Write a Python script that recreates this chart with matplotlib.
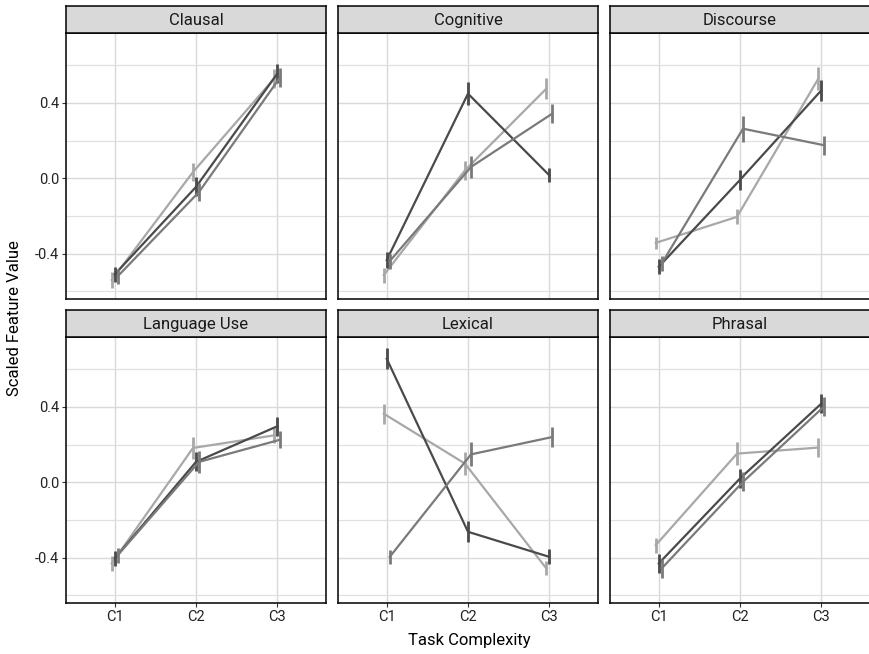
import numpy as np
import matplotlib
matplotlib.use('Agg')
import matplotlib.pyplot as plt

plt.rcParams['font.family'] = ['Roboto', 'DejaVu Sans']

# facets and x categories
facets = ['Clausal', 'Cognitive', 'Discourse', 'Language Use', 'Lexical', 'Phrasal']
levels = ['C1', 'C2', 'C3']

# mean values per facet (C1, C2, C3) for the three groups
light_mean = [[-0.54, 0.033, 0.53], [-0.514, 0.042, 0.475], [-0.343, -0.205, 0.528],
              [-0.431, 0.182, 0.249], [0.364, 0.099, -0.457], [-0.334, 0.152, 0.184]]
dark_mean = [[-0.51, -0.046, 0.555], [-0.434, 0.449, 0.016], [-0.47, -0.009, 0.466],
             [-0.404, 0.108, 0.297], [0.655, -0.263, -0.396], [-0.431, 0.02, 0.417]]
mid_mean = [[-0.52, -0.073, 0.537], [-0.44, 0.06, 0.343], [-0.452, 0.263, 0.175],
            [-0.387, 0.108, 0.226], [-0.396, 0.148, 0.24], [-0.457, 0.002, 0.403]]

# half-width of the error bars
light_err = [[0.04, 0.05, 0.05], [0.04, 0.05, 0.055], [0.03, 0.04, 0.06],
             [0.04, 0.06, 0.04], [0.053, 0.06, 0.038], [0.04, 0.06, 0.05]]
dark_err = [[0.04, 0.05, 0.05], [0.04, 0.062, 0.038], [0.04, 0.055, 0.055],
            [0.04, 0.05, 0.05], [0.056, 0.055, 0.04], [0.05, 0.05, 0.05]]
mid_err = [[0.04, 0.05, 0.05], [0.04, 0.06, 0.05], [0.04, 0.07, 0.05],
           [0.04, 0.06, 0.045], [0.037, 0.064, 0.053], [0.05, 0.05, 0.05]]

groups = [(light_mean, light_err, '#a8a8a8', -0.037),
          (dark_mean, dark_err, '#4a4a4a', 0.0),
          (mid_mean, mid_err, '#7a7a7a', 0.037)]

fig = plt.figure(figsize=(8.7, 6.54), dpi=100)
W, H = 870, 654
col_x = [66, 338, 610]
col_w = 260
row_top = [33, 337]
panel_h = 266
strip_h = 27

x = np.arange(1, 4)
for i, name in enumerate(facets):
    r, c = divmod(i, 3)
    left = col_x[c] / W
    bottom = 1 - (row_top[r] + panel_h) / H
    ax = fig.add_axes([left, bottom, col_w / W, panel_h / H])

    for means, errs, color, off in groups:
        xs = x + off
        ax.plot(xs, means[i], color=color, lw=1.6, zorder=3)
        ax.errorbar(xs, means[i], yerr=errs[i], fmt='none', ecolor=color,
                    elinewidth=2.0, capsize=0, zorder=3)

    ax.set_xlim(0.4, 3.6)
    ax.set_ylim(-0.641, 0.771)
    ax.set_xticks(x)
    ax.set_yticks([-0.4, 0.0, 0.4])
    ax.set_yticks([-0.6, -0.2, 0.2, 0.6], minor=True)
    ax.grid(which='major', color='#d9d9d9', lw=1.0, zorder=0)
    ax.grid(which='minor', axis='y', color='#e0e0e0', lw=0.9, zorder=0)
    ax.tick_params(which='minor', length=0)
    ax.tick_params(which='major', length=3, color='#333333', labelsize=10.5,
                   labelcolor='#222222', pad=2)
    if r == 1:
        ax.set_xticklabels(levels)
    else:
        ax.tick_params(axis='x', length=0, labelbottom=False)
    if c == 0:
        ax.set_yticklabels(['-0.4', '0.0', '0.4'])
    else:
        ax.tick_params(axis='y', length=0, labelleft=False)
    for s in ax.spines.values():
        s.set_color('black')
        s.set_linewidth(1.1)

    # facet strip
    sax = fig.add_axes([left, 1 - row_top[r] / H, col_w / W, strip_h / H])
    sax.set_facecolor('#d9d9d9')
    sax.set_xticks([])
    sax.set_yticks([])
    for s in sax.spines.values():
        s.set_color('black')
        s.set_linewidth(1.1)
    sax.text(0.5, 0.45, name, ha='center', va='center', fontsize=12,
             color='#1a1a1a', transform=sax.transAxes)

fig.text(469 / W, 1 - 640 / H, 'Task Complexity', ha='center', va='center', fontsize=12)
fig.text(15 / W, 1 - 318 / H, 'Scaled Feature Value', ha='center', va='center',
         rotation=90, fontsize=12)

fig.savefig('out.png', dpi=100)
